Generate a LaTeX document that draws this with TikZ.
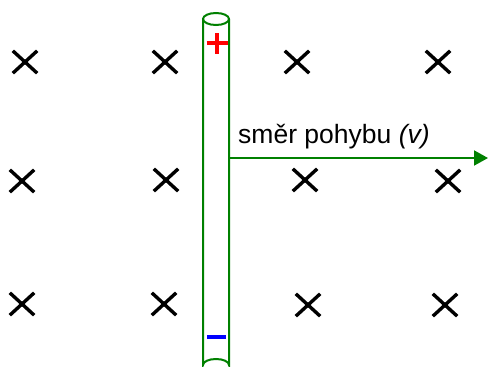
\documentclass[tikz,border=0pt]{standalone}
\usepackage{fontspec}
\setmainfont{Liberation Sans}
\usepackage{tikz}
\usetikzlibrary{shapes.misc}
\usetikzlibrary{arrows.meta}
\usetikzlibrary{positioning}
\definecolor{tyc}{RGB}{0,128,0}

\begin{document}
\begin{tikzpicture}
    [x=1pt, y=-1pt,
     kreuz/.style={cross out, draw=black, line width=3.4pt, minimum width=21pt, minimum height=19pt, inner sep=0pt},
     tyc line/.style={draw=tyc, line width=2pt}]
    \useasboundingbox (0,0) rectangle (488,367);
    \clip (0,0) rectangle (488,367);

    % magnetic field into the page
    \foreach \name/\x/\y in {k11/25/62, k12/165/62, k13/297/62, k14/438/62,
                             k21/22/181, k22/166/180, k23/305/180, k24/448/181,
                             k31/22/304, k32/164/304, k33/308/305, k34/445/305}
      \node[kreuz] (\name) at (\x,\y) {};

    % the rod
    \coordinate (lt) at (203,19);
    \coordinate (rt) at (229,19);
    \coordinate (lb) at (203,365);
    \coordinate (rb) at (229,365);
    \draw[tyc line, fill=white] (lt) -- (lb) arc[start angle=180, end angle=360, x radius=13, y radius=6] -- (rt);
    \draw[tyc line] (216,19) ellipse[x radius=13, y radius=6];

    \node (plus) at (217,43) {};
    \draw[red, line width=4pt] ([xshift=-10.5pt]plus.center) -- ([xshift=10.5pt]plus.center);
    \draw[red, line width=4pt] ([yshift=-10.5pt]plus.center) -- ([yshift=10.5pt]plus.center);
    \node (minus) at (216.5,337) {};
    \draw[blue, line width=4pt] ([xshift=-9.5pt]minus.center) -- ([xshift=9.5pt]minus.center);

    % direction of motion
    \coordinate (start) at (229,158);
    \coordinate (end) at (488,158);
    \draw[tyc line, -{Triangle[length=14pt, width=15pt]}] (start) -- (end);
    \node[anchor=base west, inner sep=0pt, font=\fontsize{26.5}{30}\selectfont] (smer) at (238,143) {směr pohybu \textit{(v)}};
  \end{tikzpicture}
\end{document}
